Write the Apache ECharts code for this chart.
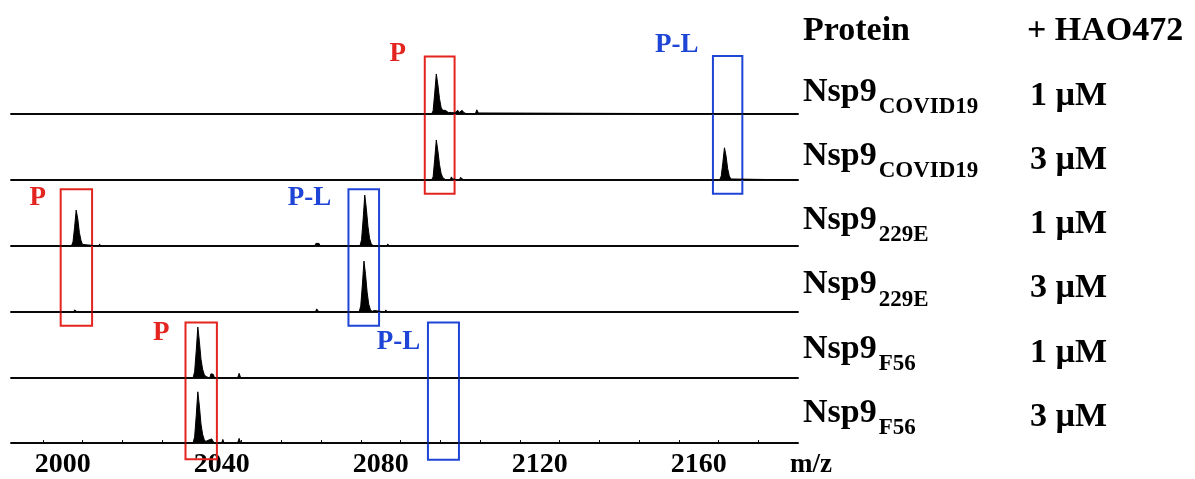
<!DOCTYPE html>
<html><head><meta charset="utf-8">
<script src="https://cdn.jsdelivr.net/npm/echarts@6/dist/echarts.min.js"></script>
<style>html,body{margin:0;padding:0;background:#fff}#c{width:1195px;height:479px}</style>
</head><body><div id="c"></div>
<script>
// ---------- data ----------
const headerProtein = 'Protein';
const headerLigand = '+ HAO472';
const proteinNames = ['Nsp9', 'Nsp9', 'Nsp9', 'Nsp9', 'Nsp9', 'Nsp9'];
const proteinSubs = ['COVID19', 'COVID19', '229E', '229E', 'F56', 'F56'];
const concentrations = ['1 µM', '3 µM', '1 µM', '3 µM', '1 µM', '3 µM'];
const xAxisTitle = 'm/z';
const xTickLabels = [2000, 2040, 2080, 2120, 2160];
const xMinorTicks = [1995, 2005, 2015, 2025, 2035, 2045, 2055, 2065, 2075, 2085, 2095, 2105, 2115, 2125, 2135, 2145, 2155, 2165, 2175];
const mzRange = [1987, 2185];

// spectra: [m/z, relative intensity]
const specCovid1 = [[1987,0],[2092.8,0],[2093.2,6],[2093.6,40],[2094.0,77],[2094.4,56],[2094.8,30],[2095.2,13],[2095.6,7],[2095.9,4],[2096.3,7],[2096.6,5],[2097.0,3],[2097.4,6],[2097.8,3],[2098.2,4],[2098.6,2],[2099.0,5],[2099.4,7],[2099.8,3],[2100.2,6],[2100.5,7],[2100.9,3],[2101.3,5],[2101.7,0],[2103.8,0],[2104.2,8],[2104.6,2],[2105.0,0],[2185,0]];
const specCovid3 = [[1987,0],[2092.8,0],[2093.2,6],[2093.6,40],[2094.0,77],[2094.4,56],[2094.8,30],[2095.2,13],[2095.6,5],[2096.0,2],[2096.4,0],[2097.5,0],[2097.8,6],[2098.1,2],[2098.4,0],[2099.8,0],[2100.1,5],[2100.5,6],[2100.9,0],[2165.3,0],[2165.7,8],[2166.1,34],[2166.5,62],[2166.9,46],[2167.3,22],[2167.7,8],[2168.1,2],[2168.5,0],[2185,0]];
const spec229E1 = [[1987,0],[2002.2,0],[2002.6,8],[2003.0,36],[2003.4,69],[2003.8,52],[2004.2,26],[2004.6,11],[2005.0,3],[2005.4,0],[2009.1,0],[2009.3,4],[2009.5,0],[2063.4,0],[2063.7,5],[2064.1,8],[2064.5,5],[2064.8,0],[2074.8,0],[2075.2,12],[2075.6,52],[2076.0,98],[2076.4,72],[2076.8,38],[2077.2,15],[2077.6,5],[2078.0,1],[2078.3,0],[2078.5,4],[2078.8,0],[2081.5,0],[2081.8,4],[2082.1,0],[2185,0]];
const spec229E3 = [[1987,0],[2002.8,0],[2003.0,4],[2003.2,1],[2003.5,4],[2003.7,0],[2063.6,0],[2063.9,6],[2064.2,5],[2064.5,0],[2074.6,0],[2075.0,12],[2075.4,52],[2075.8,98],[2076.2,72],[2076.6,38],[2077.0,15],[2077.4,5],[2077.8,1],[2078.1,0],[2078.4,3],[2078.7,0],[2081.0,0],[2081.3,4],[2081.6,0],[2185,0]];
const specF561 = [[1987,0],[2032.8,0],[2033.2,12],[2033.6,52],[2034.0,98],[2034.4,70],[2034.8,36],[2035.2,17],[2035.6,7],[2036.0,3],[2036.4,0],[2037.0,0],[2037.3,8],[2037.6,5],[2037.9,7],[2038.2,0],[2044.0,0],[2044.4,9],[2044.8,0],[2185,0]];
const specF563 = [[1987,0],[2032.8,0],[2033.2,12],[2033.6,53],[2034.0,100],[2034.4,72],[2034.8,37],[2035.2,17],[2035.6,7],[2036.0,3],[2036.3,0],[2036.5,0],[2036.8,6],[2037.1,3],[2037.5,8],[2037.8,9],[2038.1,0],[2040.0,0],[2040.3,7],[2040.6,0],[2044.0,0],[2044.4,9],[2044.8,0],[2185,0]];
const spectra = [specCovid1, specCovid3, spec229E1, spec229E3, specF561, specF563];

// annotation boxes: m/z span, row span (row index units, baseline of row k at k+1)
const boxKinds = ['P', 'P-L', 'P', 'P-L', 'P', 'P-L'];
const boxMz = [[2091.1, 2098.6], [2163.6, 2171.0], [1999.5, 2007.4], [2071.9, 2079.6], [2030.9, 2038.8], [2091.9, 2099.7]];
const boxRows = [[0.13, 2.21], [0.12, 2.21], [2.14, 4.21], [2.14, 4.21], [4.16, 6.23], [4.16, 6.24]];
// annotation labels
const labelMz = [2084.3, 2154.5, 1993.7, 2062.1, 2024.8, 2084.5];
const labelRow = [0.09, -0.045, 2.27, 2.27, 4.32, 4.45];

// ---------- layout / style ----------
const GL = 11, GW = 787, BASE0 = 114, ROWH = 66;
const RED = '#e3241f', BLUE = '#1f45d6';
const SERIF = '"Liberation Serif","Times New Roman",serif';
const kindColor = k => k === 'P' ? RED : BLUE;

const grids = [], xAxes = [], yAxes = [], series = [];
spectra.forEach((d, i) => {
  const base = BASE0 + ROWH * i;
  const last = i === spectra.length - 1;
  grids.push({left: GL, width: GW, top: base - ROWH, height: ROWH});
  xAxes.push({
    type: 'value', gridIndex: i, min: mzRange[0], max: mzRange[1],
    axisLine: {show: true, onZero: false, lineStyle: {color: '#111', width: 2}},
    axisTick: last ? {show: true, inside: true, length: 3, customValues: xMinorTicks, lineStyle: {color: '#111', width: 1}} : {show: false},
    axisLabel: last ? {show: true, customValues: xTickLabels, margin: 8, color: '#000', fontSize: 28, fontWeight: 'bold', fontFamily: SERIF,
      formatter: v => String(v)} : {show: false},
    splitLine: {show: false}
  });
  yAxes.push({type: 'value', gridIndex: i, min: 0, max: 127, show: false});
  series.push({
    type: 'line', xAxisIndex: i, yAxisIndex: i, data: d, showSymbol: false, symbol: 'none',
    lineStyle: {color: '#000', width: 1}, areaStyle: {color: '#000', opacity: 1}, clip: false, z: 3
  });
});
// overlay grid for boxes and annotation labels
const OV = spectra.length;
grids.push({left: GL, width: GW, top: BASE0 - ROWH - ROWH / 2, height: ROWH * 7});
xAxes.push({type: 'value', gridIndex: OV, min: mzRange[0], max: mzRange[1], show: false});
yAxes.push({type: 'value', gridIndex: OV, min: -0.5, max: 6.5, inverse: true, show: false});
series.push({
  type: 'scatter', xAxisIndex: OV, yAxisIndex: OV, symbolSize: 0, clip: false, z: 10,
  itemStyle: {opacity: 1},
  data: labelMz.map((m, k) => ({
    value: [m, labelRow[k]], name: boxKinds[k],
    label: {show: true, position: 'inside', formatter: '{b}', color: kindColor(boxKinds[k]),
      fontSize: 27, fontWeight: 'bold', fontFamily: SERIF}
  })),
  markArea: {
    silent: true,
    data: boxMz.map((m, k) => [
      {coord: [m[0], boxRows[k][0]], itemStyle: {color: 'rgba(0,0,0,0)', borderColor: kindColor(boxKinds[k]), borderWidth: 2, opacity: 1}},
      {coord: [m[1], boxRows[k][1]]}
    ])
  }
});

// right-hand text
const ROW_TXT0 = 92, ROW_TXT_STEP = 64.2;
const graphics = [];
graphics.push({type: 'text', x: 803, y: 31, style: {text: headerProtein, fill: '#000', font: 'bold 34px ' + SERIF, verticalAlign: 'middle'}});
graphics.push({type: 'text', x: 1027, y: 31, style: {text: headerLigand, fill: '#000', font: 'bold 34px ' + SERIF, verticalAlign: 'middle'}});
proteinNames.forEach((p, i) => {
  const yc = ROW_TXT0 + ROW_TXT_STEP * i;
  graphics.push({type: 'text', x: 803, y: yc, style: {
    text: '{a|' + p + '}{b|' + proteinSubs[i] + '}', verticalAlign: 'middle', fill: '#000',
    rich: {
      a: {fontSize: 34, fontWeight: 'bold', fontFamily: SERIF, color: '#000'},
      b: {fontSize: 23, fontWeight: 'bold', fontFamily: SERIF, color: '#000', padding: [30, 0, 0, 2]}
    }
  }});
  graphics.push({type: 'text', x: 1030, y: yc + 4, style: {text: concentrations[i], fill: '#000', font: 'bold 34px ' + SERIF, verticalAlign: 'middle'}});
});
graphics.push({type: 'text', x: 790, y: 465, style: {text: xAxisTitle, fill: '#000', font: 'bold 27px ' + SERIF, verticalAlign: 'middle'}});

const chart = echarts.init(document.getElementById('c'), null, {renderer: 'canvas'});
chart.setOption({
  animation: false, backgroundColor: '#fff',
  grid: grids, xAxis: xAxes, yAxis: yAxes, series: series, graphic: graphics
});
</script></body></html>
